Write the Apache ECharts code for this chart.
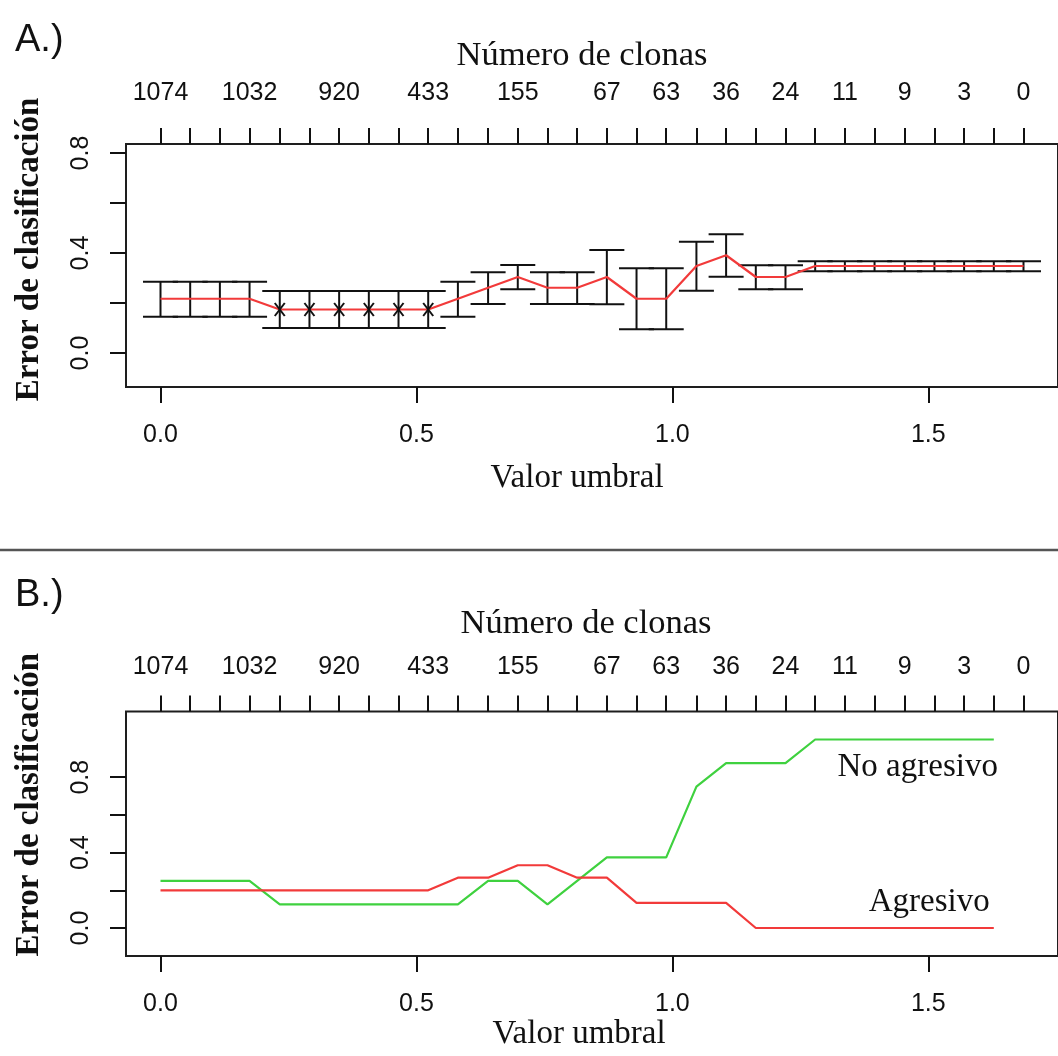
<!DOCTYPE html>
<html>
<head>
<meta charset="utf-8">
<script src="https://cdn.jsdelivr.net/npm/echarts@6/dist/echarts.min.js"></script>
<style>
  html, body { margin: 0; padding: 0; background: #fff; }
  #chart { width: 1058px; height: 1056px; }
</style>
</head>
<body>
<div id="chart"></div>
<script>
// ---- data ----
const thresholds = [0.000,0.058,0.116,0.174,0.233,0.291,0.349,0.407,0.465,0.523,
                    0.581,0.640,0.698,0.756,0.814,0.872,0.930,0.988,1.047,1.105,
                    1.163,1.221,1.279,1.337,1.395,1.454,1.512,1.570,1.628,1.686];
// number of clones shown on the top axis ('' = label not drawn)
const cloneLabels = ['1074','','','1032','','','920','','','433',
                     '','','155','','','67','','63','','36',
                     '','24','','11','','9','','3','','0'];
// panel A: cross-validated error with error bars
const cvError = [0.217,0.217,0.217,0.217,0.174,0.174,0.174,0.174,0.174,0.174,
                 0.217,0.261,0.304,0.261,0.261,0.304,0.217,0.217,0.348,0.391,
                 0.304,0.304,0.348,0.348,0.348,0.348,0.348,0.348,0.348,0.348];
const errUpper = [0.285,0.285,0.285,0.285,0.248,0.248,0.248,0.248,0.248,0.248,
                  0.285,0.323,0.352,0.323,0.323,0.412,0.339,0.339,0.445,0.475,
                  0.351,0.351,0.367,0.367,0.367,0.367,0.367,0.367,0.367,0.367];
const errLower = [0.145,0.145,0.145,0.145,0.100,0.100,0.100,0.100,0.100,0.100,
                  0.145,0.196,0.255,0.196,0.196,0.195,0.095,0.095,0.249,0.305,
                  0.255,0.255,0.327,0.327,0.327,0.327,0.327,0.327,0.327,0.327];
const markedIdx = [4,5,6,7,8,9];
// panel B: per-class error
const errNoAgresivo = [0.25,0.25,0.25,0.25,0.125,0.125,0.125,0.125,0.125,0.125,
                       0.125,0.25,0.25,0.125,0.25,0.375,0.375,0.375,0.75,0.875,
                       0.875,0.875,1,1,1,1,1,1,1];
const errAgresivo = [0.2,0.2,0.2,0.2,0.2,0.2,0.2,0.2,0.2,0.2,
                     0.267,0.267,0.333,0.333,0.267,0.267,0.133,0.133,0.133,0.133,
                     0,0,0,0,0,0,0,0,0];
const bottomTicks = [0, 0.5, 1.0, 1.5];
const yTicks = [0, 0.2, 0.4, 0.6, 0.8];
const yLabels = [0, 0.4, 0.8];
const classNames = ['No agresivo', 'Agresivo'];
const classLabelAt = [[1.636, 0.854], [1.620, 0.138]];

// ---- chart ----
const SANS = 'Liberation Sans';
const SERIF = 'Liberation Serif';
const XMIN = -0.0674, XMAX = 1.7534;
const INK = '#111111';

function labelFor(v) {
  for (let i = 0; i < thresholds.length; i++) {
    if (Math.abs(thresholds[i] - v) < 1e-6) return cloneLabels[i];
  }
  return '';
}
const shownTop = thresholds.filter((t, i) => cloneLabels[i] !== '');

function bottomAxis(gi, nameGap, namePad) {
  return {
    type: 'value', gridIndex: gi, position: 'bottom', min: XMIN, max: XMAX,
    axisLine: { show: false, onZero: false }, splitLine: { show: false },
    axisTick: { show: true, customValues: bottomTicks, length: 16, lineStyle: { color: INK, width: 2 } },
    axisLabel: { customValues: bottomTicks, margin: 36, fontFamily: SANS, fontSize: 25, color: INK,
                 formatter: v => v.toFixed(1) },
    name: 'Valor umbral', nameLocation: 'middle', nameGap: nameGap,
    nameTextStyle: { fontFamily: SERIF, fontSize: 33, color: INK, padding: namePad }
  };
}
function topAxis(gi, margin, nameGap, namePad) {
  return {
    type: 'value', gridIndex: gi, position: 'top', min: XMIN, max: XMAX,
    axisLine: { show: false, onZero: false }, splitLine: { show: false },
    axisTick: { show: true, customValues: thresholds, length: 16, lineStyle: { color: INK, width: 2 } },
    axisLabel: { customValues: shownTop, margin: margin, fontFamily: SANS, fontSize: 25, color: INK,
                 formatter: v => labelFor(v) },
    name: 'Número de clonas', nameLocation: 'middle', nameGap: nameGap,
    nameTextStyle: { fontFamily: SERIF, fontSize: 34.5, color: INK, padding: namePad }
  };
}
function leftAxis(gi, min, max, namePad) {
  return {
    type: 'value', gridIndex: gi, min: min, max: max,
    axisLine: { show: false, onZero: false }, splitLine: { show: false },
    axisTick: { show: true, customValues: yTicks, length: 16, lineStyle: { color: INK, width: 2 } },
    axisLabel: { customValues: yLabels, rotate: 90, margin: 32, fontFamily: SANS, fontSize: 25, color: INK,
                 formatter: v => v.toFixed(1) },
    name: 'Error de clasificación', nameLocation: 'middle', nameGap: 80,
    nameTextStyle: { fontFamily: SERIF, fontSize: 33, fontWeight: 'bold', color: INK, padding: namePad }
  };
}

const option = {
  backgroundColor: '#ffffff',
  animation: false,
  title: [
    { text: 'A.)', left: 10, top: 17, textStyle: { fontFamily: SANS, fontSize: 38, fontWeight: 'normal', color: INK } },
    { text: 'B.)', left: 10, top: 572, textStyle: { fontFamily: SANS, fontSize: 38, fontWeight: 'normal', color: INK } }
  ],
  graphic: [
    { type: 'line', shape: { x1: 0, y1: 550, x2: 1058, y2: 550 }, style: { stroke: '#555', lineWidth: 2.5 } }
  ],
  grid: [
    { left: 126, top: 144, width: 940, height: 243, show: true, borderColor: '#1e1e1e', borderWidth: 2 },
    { left: 126, top: 711.6, width: 940, height: 244.3, show: true, borderColor: '#1e1e1e', borderWidth: 2 }
  ],
  xAxis: [
    bottomAxis(0, 75, [0, 30, 0, 0]),
    topAxis(0, 38, 71, [0, 20, 0, 0]),
    bottomAxis(1, 60, [0, 26, 0, 0]),
    topAxis(1, 32, 70, [0, 12, 0, 0])
  ],
  yAxis: [
    leftAxis(0, -0.136, 0.836, [0, 0, 0, 32]),
    leftAxis(1, -0.148, 1.148, [0, 0, 0, 58])
  ],
  series: [
    {
      type: 'custom', name: 'Barras de error', xAxisIndex: 0, yAxisIndex: 0,
      data: thresholds.map((t, i) => [t, errLower[i], errUpper[i]]),
      encode: { x: 0, y: [1, 2] },
      renderItem: function (params, api) {
        const x = api.value(0);
        const lo = api.coord([x, api.value(1)]);
        const hi = api.coord([x, api.value(2)]);
        const w = 17.5;
        const st = { stroke: '#111', lineWidth: 2 };
        return { type: 'group', children: [
          { type: 'line', shape: { x1: lo[0], y1: lo[1], x2: hi[0], y2: hi[1] }, style: st },
          { type: 'line', shape: { x1: hi[0] - w, y1: hi[1], x2: hi[0] + w, y2: hi[1] }, style: st },
          { type: 'line', shape: { x1: lo[0] - w, y1: lo[1], x2: lo[0] + w, y2: lo[1] }, style: st }
        ] };
      },
      z: 2
    },
    {
      type: 'line', name: 'Error CV', xAxisIndex: 0, yAxisIndex: 0,
      data: thresholds.map((t, i) => [t, cvError[i]]),
      showSymbol: false, symbol: 'none',
      lineStyle: { color: '#f23a3a', width: 2.2 }, z: 3
    },
    {
      type: 'custom', name: 'Mínimo', xAxisIndex: 0, yAxisIndex: 0,
      data: markedIdx.map(i => [thresholds[i], cvError[i]]),
      renderItem: function (params, api) {
        const p = api.coord([api.value(0), api.value(1)]);
        const dx = 5, dy = 6.5;
        const st = { stroke: '#111', lineWidth: 2 };
        return { type: 'group', children: [
          { type: 'line', shape: { x1: p[0] - dx, y1: p[1] - dy, x2: p[0] + dx, y2: p[1] + dy }, style: st },
          { type: 'line', shape: { x1: p[0] - dx, y1: p[1] + dy, x2: p[0] + dx, y2: p[1] - dy }, style: st }
        ] };
      },
      z: 4
    },
    {
      type: 'line', name: 'No agresivo', xAxisIndex: 2, yAxisIndex: 1,
      data: errNoAgresivo.map((v, i) => [thresholds[i], v]),
      showSymbol: false, symbol: 'none',
      lineStyle: { color: '#3fd13f', width: 2.2 }, z: 3
    },
    {
      type: 'line', name: 'Agresivo', xAxisIndex: 2, yAxisIndex: 1,
      data: errAgresivo.map((v, i) => [thresholds[i], v]),
      showSymbol: false, symbol: 'none',
      lineStyle: { color: '#f23a3a', width: 2.2 }, z: 3
    },
    {
      type: 'scatter', name: 'Etiquetas', xAxisIndex: 2, yAxisIndex: 1,
      data: classLabelAt.map((p, i) => ({ value: p, name: classNames[i] })),
      symbolSize: 0, itemStyle: { color: '#000' },
      label: { show: true, position: 'left', distance: 0, formatter: p => p.name,
               fontFamily: SERIF, fontSize: 33, color: INK, opacity: 1 },
      emphasis: { disabled: true },
      silent: true, z: 5
    }
  ]
};

const chart = echarts.init(document.getElementById('chart'), null, { renderer: 'canvas' });
chart.setOption(option);
</script>
</body>
</html>
